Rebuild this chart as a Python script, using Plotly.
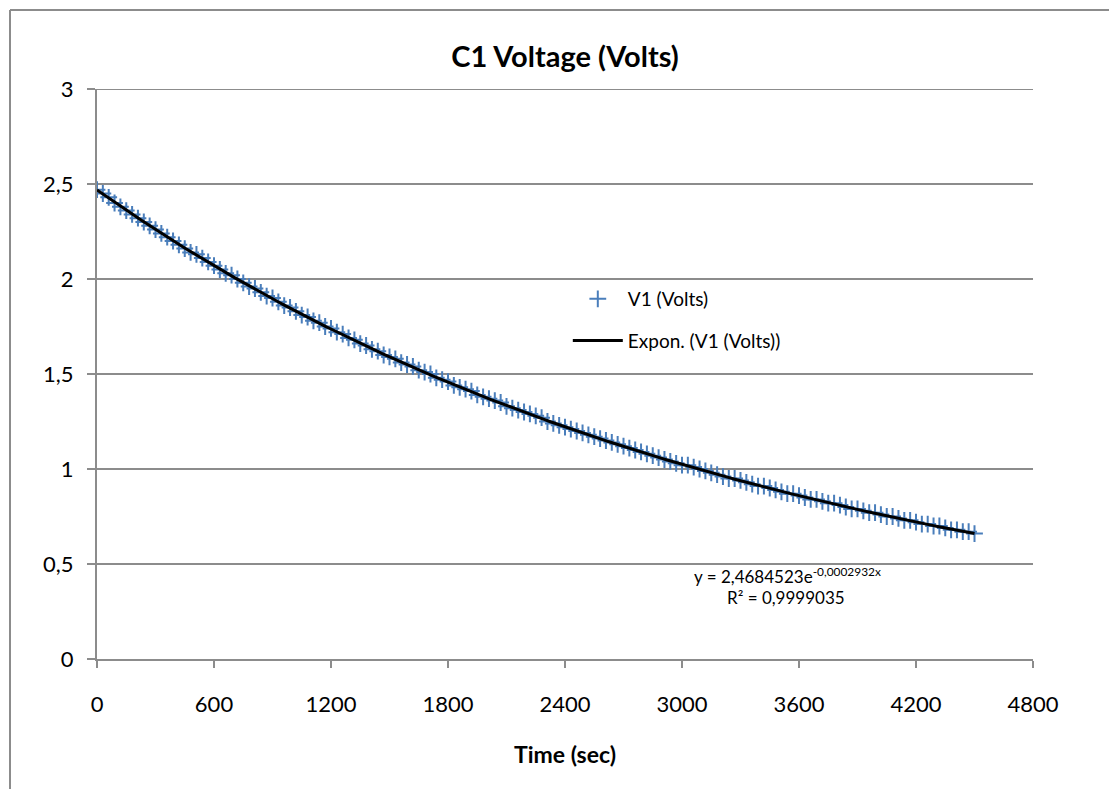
import numpy as np
import plotly.graph_objects as go

# ---- data ----
time_s = [0, 30, 60, 90, 120, 150, 180, 210, 240, 270,
          300, 330, 360, 390, 420, 450, 480, 510, 540, 570,
          600, 630, 660, 690, 720, 750, 780, 810, 840, 870,
          900, 930, 960, 990, 1020, 1050, 1080, 1110, 1140, 1170,
          1200, 1230, 1260, 1290, 1320, 1350, 1380, 1410, 1440, 1470,
          1500, 1530, 1560, 1590, 1620, 1650, 1680, 1710, 1740, 1770,
          1800, 1830, 1860, 1890, 1920, 1950, 1980, 2010, 2040, 2070,
          2100, 2130, 2160, 2190, 2220, 2250, 2280, 2310, 2340, 2370,
          2400, 2430, 2460, 2490, 2520, 2550, 2580, 2610, 2640, 2670,
          2700, 2730, 2760, 2790, 2820, 2850, 2880, 2910, 2940, 2970,
          3000, 3030, 3060, 3090, 3120, 3150, 3180, 3210, 3240, 3270,
          3300, 3330, 3360, 3390, 3420, 3450, 3480, 3510, 3540, 3570,
          3600, 3630, 3660, 3690, 3720, 3750, 3780, 3810, 3840, 3870,
          3900, 3930, 3960, 3990, 4020, 4050, 4080, 4110, 4140, 4170,
          4200, 4230, 4260, 4290, 4320, 4350, 4380, 4410, 4440, 4470,
          4500]
v1_volts = [2.47, 2.45, 2.43, 2.40, 2.38, 2.36, 2.34, 2.32, 2.30, 2.28,
            2.26, 2.24, 2.22, 2.20, 2.18, 2.16, 2.14, 2.13, 2.11, 2.09,
            2.07, 2.05, 2.03, 2.02, 2.00, 1.98, 1.96, 1.95, 1.93, 1.91,
            1.90, 1.88, 1.86, 1.85, 1.83, 1.81, 1.80, 1.78, 1.77, 1.75,
            1.74, 1.72, 1.71, 1.69, 1.68, 1.66, 1.65, 1.63, 1.62, 1.60,
            1.59, 1.58, 1.56, 1.55, 1.54, 1.52, 1.51, 1.50, 1.48, 1.47,
            1.46, 1.44, 1.43, 1.42, 1.41, 1.39, 1.38, 1.37, 1.36, 1.35,
            1.33, 1.32, 1.31, 1.30, 1.29, 1.28, 1.27, 1.25, 1.24, 1.23,
            1.22, 1.21, 1.20, 1.19, 1.18, 1.17, 1.16, 1.15, 1.14, 1.13,
            1.12, 1.11, 1.10, 1.09, 1.08, 1.07, 1.06, 1.05, 1.04, 1.03,
            1.02, 1.02, 1.01, 1.00, 0.99, 0.98, 0.97, 0.96, 0.95, 0.95,
            0.94, 0.93, 0.92, 0.91, 0.91, 0.90, 0.89, 0.88, 0.87, 0.87,
            0.86, 0.85, 0.84, 0.84, 0.83, 0.82, 0.82, 0.81, 0.80, 0.79,
            0.79, 0.78, 0.77, 0.77, 0.76, 0.75, 0.75, 0.74, 0.73, 0.73,
            0.72, 0.71, 0.71, 0.70, 0.70, 0.69, 0.68, 0.68, 0.67, 0.67,
            0.66]
x_ticks = [0, 600, 1200, 1800, 2400, 3000, 3600, 4200, 4800]
y_ticks = [0, 0.5, 1, 1.5, 2, 2.5, 3]

chart_title = "C1 Voltage (Volts)"
x_title = "Time (sec)"
series_name = "V1 (Volts)"
trend_name = "Expon. (V1 (Volts))"
eq_text = "y = 2,4684523e<sup>-0,0002932x</sup>"
r2_text = "R² = 0,9999035"

FONT = "Lato"

# exponential trendline fitted from the data (as Excel does)
t = np.array(time_s, dtype=float)
v = np.array(v1_volts, dtype=float)
b, ln_a = np.polyfit(t, np.log(v), 1)
t_fit = np.linspace(t.min(), t.max(), 300)
v_fit = np.exp(ln_a) * np.exp(b * t_fit)

fig = go.Figure()
fig.add_trace(go.Scatter(
    x=time_s, y=v1_volts, mode="markers", name=series_name,
    marker=dict(symbol="cross-thin", size=12, color="#4A7EBB",
                line=dict(color="#4A7EBB", width=2)),
    legendgroup="a",
))
fig.add_trace(go.Scatter(
    x=t_fit, y=v_fit, mode="lines", name=trend_name,
    line=dict(color="black", width=3),
    legendgroup="b",
))

grid = "#8C8C8C"
fig.update_layout(
    width=1109, height=789,
    margin=dict(l=97, r=76, t=89, b=130),
    paper_bgcolor="white", plot_bgcolor="white",
    separators=", ",
    font=dict(family=FONT, size=22, color="black"),
    title=dict(text="<b>" + chart_title + "</b>", x=(565 - 97) / 936, xanchor="center",
               xref="paper", y=1 - 57 / 789, yanchor="middle",
               font=dict(family=FONT, size=29, color="black")),
    showlegend=True,
    legend=dict(x=0.503, y=0.665, xanchor="left", yanchor="top",
                bgcolor="rgba(0,0,0,0)", font=dict(family=FONT, size=19),
                traceorder="grouped", tracegroupgap=14, itemwidth=50),
    xaxis=dict(range=[0, 4800], tickvals=x_ticks, showgrid=False,
               showline=True, linecolor=grid, linewidth=2,
               ticks="outside", ticklen=7, tickcolor=grid, tickwidth=2,
               ticklabelstandoff=18,
               tickfont=dict(family=FONT, size=22),
               title=dict(text="<b>" + x_title + "</b>", standoff=30,
                          font=dict(family=FONT, size=23)),
               zeroline=False, fixedrange=True),
    yaxis=dict(range=[0, 3], tickvals=y_ticks, showgrid=True,
               gridcolor=grid, gridwidth=2,
               showline=True, linecolor=grid, linewidth=2,
               ticks="outside", ticklen=8, tickcolor=grid, tickwidth=2,
               ticklabelstandoff=9,
               tickfont=dict(family=FONT, size=22),
               zeroline=False, fixedrange=True),
)

# top gridline at y = 3
fig.add_shape(type="line", xref="paper", yref="y", x0=0, x1=1, y0=3, y1=3,
              line=dict(color=grid, width=2), layer="below")

# chart-area border (left and top edges visible)
fig.add_shape(type="line", xref="paper", yref="paper",
              x0=(10 - 97) / 936, x1=(10 - 97) / 936,
              y0=(659 - 10) / 570, y1=-0.4,
              line=dict(color=grid, width=2))
fig.add_shape(type="line", xref="paper", yref="paper",
              x0=(10 - 97) / 936, x1=1.2,
              y0=(659 - 10) / 570, y1=(659 - 10) / 570,
              line=dict(color=grid, width=2))

fig.add_annotation(x=(787 - 97) / 936, y=(659 - 575) / 570, xref="paper", yref="paper",
                   text=eq_text, showarrow=False, xanchor="center", yanchor="middle",
                   font=dict(family=FONT, size=17))
fig.add_annotation(x=(786 - 97) / 936, y=(659 - 597) / 570, xref="paper", yref="paper",
                   text=r2_text, showarrow=False, xanchor="center", yanchor="middle",
                   font=dict(family=FONT, size=17))

fig.write_html("out.html")
